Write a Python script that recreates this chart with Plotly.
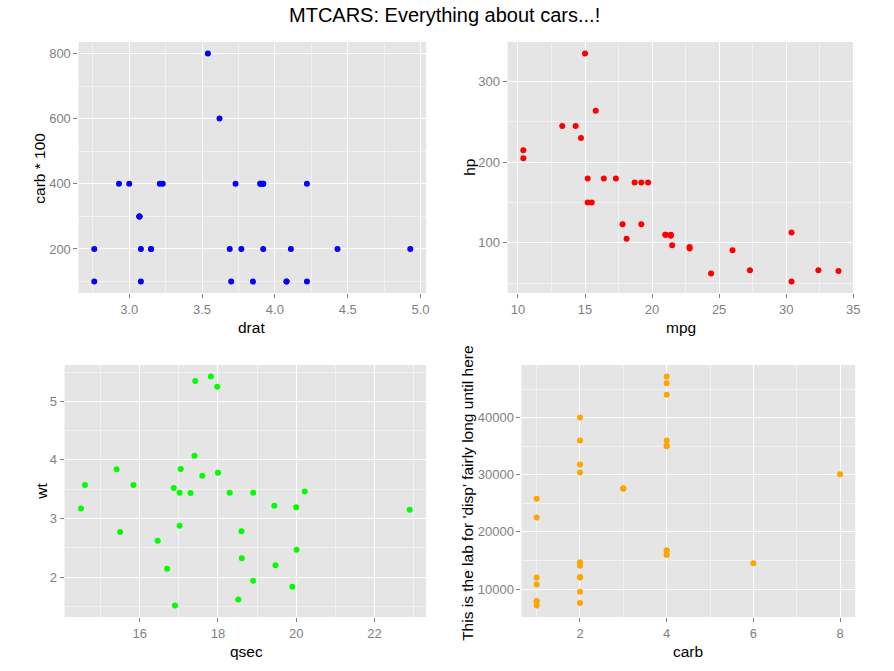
import plotly.graph_objects as go

# mtcars columns (row order of the dataset)
mpg = [21.0, 21.0, 22.8, 21.4, 18.7, 18.1, 14.3, 24.4, 22.8, 19.2, 17.8, 16.4, 17.3, 15.2, 10.4, 10.4,
       14.7, 32.4, 30.4, 33.9, 21.5, 15.5, 15.2, 13.3, 19.2, 27.3, 26.0, 30.4, 15.8, 19.7, 15.0, 21.4]
disp = [160.0, 160.0, 108.0, 258.0, 360.0, 225.0, 360.0, 146.7, 140.8, 167.6, 167.6, 275.8, 275.8, 275.8,
        472.0, 460.0, 440.0, 78.7, 75.7, 71.1, 120.1, 318.0, 304.0, 350.0, 400.0, 79.0, 120.3, 95.1,
        351.0, 145.0, 301.0, 121.0]
hp = [110, 110, 93, 110, 175, 105, 245, 62, 95, 123, 123, 180, 180, 180, 205, 215, 230, 66, 52, 65, 97,
      150, 150, 245, 175, 66, 91, 113, 264, 175, 335, 109]
drat = [3.90, 3.90, 3.85, 3.08, 3.15, 2.76, 3.21, 3.69, 3.92, 3.92, 3.92, 3.07, 3.07, 3.07, 2.93, 3.00,
        3.23, 4.08, 4.93, 4.22, 3.70, 2.76, 3.15, 3.73, 3.08, 4.08, 4.43, 3.77, 4.22, 3.62, 3.54, 4.11]
wt = [2.620, 2.875, 2.320, 3.215, 3.440, 3.460, 3.570, 3.190, 3.150, 3.440, 3.440, 4.070, 3.730, 3.780,
      5.250, 5.424, 5.345, 2.200, 1.615, 1.835, 2.465, 3.520, 3.435, 3.840, 3.845, 1.935, 2.140, 1.513,
      3.170, 2.770, 3.570, 2.780]
qsec = [16.46, 17.02, 18.61, 19.44, 17.02, 20.22, 15.84, 20.00, 22.90, 18.30, 18.90, 17.40, 17.60, 18.00,
        17.98, 17.82, 17.42, 19.47, 18.52, 19.90, 20.01, 16.87, 17.30, 15.41, 17.05, 18.90, 16.70, 16.90,
        14.50, 15.50, 14.60, 18.60]
carb = [4, 4, 1, 1, 2, 1, 4, 2, 2, 4, 4, 3, 3, 3, 4, 4, 4, 1, 2, 1, 1, 2, 2, 4, 2, 1, 2, 2, 4, 6, 8, 2]

carb100 = [c * 100 for c in carb]
disp100 = [d * 100 for d in disp]

W, H = 894, 671
FONT = "Liberation Sans, Arial, sans-serif"


def px_x(p):
    return p / W


def px_y(p):
    return (H - p) / H


def ggrange(v):
    lo, hi = min(v), max(v)
    e = (hi - lo) * 0.05
    return [lo - e, hi + e]


MS = 6
fig = go.Figure()
fig.add_trace(go.Scatter(x=drat, y=carb100, mode="markers", xaxis="x", yaxis="y",
                         marker=dict(color="#0000FF", size=MS), showlegend=False))
fig.add_trace(go.Scatter(x=mpg, y=hp, mode="markers", xaxis="x2", yaxis="y2",
                         marker=dict(color="#FF0000", size=MS), showlegend=False))
fig.add_trace(go.Scatter(x=qsec, y=wt, mode="markers", xaxis="x3", yaxis="y3",
                         marker=dict(color="#00FF00", size=MS), showlegend=False))
fig.add_trace(go.Scatter(x=carb, y=disp100, mode="markers", xaxis="x4", yaxis="y4",
                         marker=dict(color="#FFA500", size=MS), showlegend=False))


def ax(domain, rng, dtick, tick0, mdtick, anchor, fmt=None):
    d = dict(domain=domain, range=rng, anchor=anchor, dtick=dtick, tick0=tick0,
             showline=False, zeroline=False, ticks="outside", ticklen=4, tickwidth=1,
             tickcolor="#7F7F7F", tickfont=dict(family=FONT, size=13, color="#7F7F7F"),
             showgrid=True, gridcolor="#FFFFFF", gridwidth=1.2,
             minor=dict(dtick=mdtick, tick0=tick0, showgrid=True, gridcolor="#F2F2F2", gridwidth=0.8),
             fixedrange=True)
    if fmt:
        d["tickformat"] = fmt
    return d


top_y = [px_y(293), px_y(42)]
bot_y = [px_y(617), px_y(365)]

fig.update_layout(
    width=W, height=H, autosize=False,
    margin=dict(l=0, r=0, t=0, b=0),
    paper_bgcolor="white", plot_bgcolor="#E5E5E5",
    font=dict(family=FONT),
    xaxis=ax([px_x(79), px_x(429)], ggrange(drat), 0.5, 0, 0.25, "y", ".1f"),
    yaxis=ax(top_y, ggrange(carb100), 200, 0, 100, "x"),
    xaxis2=ax([px_x(511), px_x(860)], ggrange(mpg), 5, 0, 2.5, "y2"),
    yaxis2=ax(top_y, ggrange(hp), 100, 0, 50, "x2"),
    xaxis3=ax([px_x(65), px_x(429)], ggrange(qsec), 2, 0, 1, "y3"),
    yaxis3=ax(bot_y, ggrange(wt), 1, 0, 0.5, "x3"),
    xaxis4=ax([px_x(525), px_x(861)], ggrange(carb), 2, 0, 1, "y4"),
    yaxis4=ax(bot_y, ggrange(disp100), 10000, 0, 5000, "x4", "d"),
)


def ann(text, x, y, size=15.5, angle=0):
    return dict(text=text, x=px_x(x), y=px_y(y), xref="paper", yref="paper",
                xanchor="center", yanchor="middle", showarrow=False, textangle=angle,
                font=dict(family=FONT, size=size, color="#000000"))


fig.update_layout(annotations=[
    ann("MTCARS: Everything about cars...!", 447, 15, size=20),
    ann("drat", 253, 327),
    ann("mpg", 686, 327),
    ann("qsec", 248, 651),
    ann("carb", 693, 651),
    ann("carb * 100", 40, 168, angle=-90),
    ann("hp", 472, 167, angle=-90),
    ann("wt", 41, 491, angle=-90),
    ann("This is the lab for 'disp' fairly long until here", 470, 493, angle=-90),
])

fig.write_html("out.html", config={"displayModeBar": False},
               post_script="document.body.style.margin='0';")
